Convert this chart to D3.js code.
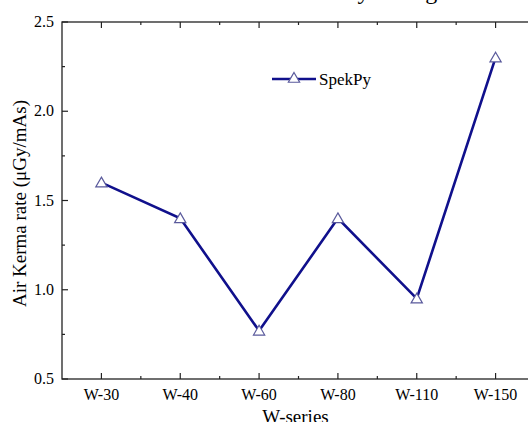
<!DOCTYPE html>
<html>
<head>
<meta charset="utf-8">
<script src="https://d3js.org/d3.v7.min.js"></script>
<style>
  body { margin: 0; background: #fff; }
  svg { display: block; font-family: "Liberation Serif", "Times New Roman", serif; }
</style>
</head>
<body>
<div id="chart"></div>
<script>
// data
var categories = ["W-30", "W-40", "W-60", "W-80", "W-110", "W-150"];
var spekpy = [1.60, 1.40, 0.77, 1.40, 0.95, 2.30];
var yTicks = [0.5, 1.0, 1.5, 2.0, 2.5];
var seriesName = "SpekPy";

const width = 528, height = 422;
const margin = {left: 62, right: -7, top: 22, bottom: 43};
const lineColor = "#10108c";
const markColor = "#5a5a9c";

const svg = d3.select("#chart").append("svg")
  .attr("width", width).attr("height", height);

const x = d3.scaleLinear()
  .domain([-0.5, categories.length - 0.5])
  .range([margin.left, width - margin.right]);
const y = d3.scaleLinear()
  .domain([0.5, 2.5])
  .range([height - margin.bottom, margin.top]);

// title, mostly outside the picture (only descenders show)
svg.append("text")
  .attr("x", 448).attr("y", -1)
  .attr("text-anchor", "end")
  .style("font-size", "24px")
  .text("Air Kerma rate by Voltage");

const x0 = margin.left, x1 = width - margin.right;
const y0 = height - margin.bottom, y1 = margin.top;

// frame
svg.append("rect")
  .attr("x", x0).attr("y", y1)
  .attr("width", x1 - x0).attr("height", y0 - y1)
  .attr("fill", "none").attr("stroke", "#222").attr("stroke-width", 1.3);

var idx = d3.range(categories.length);
var minorX = d3.range(categories.length - 1).map(i => i + 0.5);
var minorY = [0.75, 1.25, 1.75, 2.25];

function tickLines(vals, len, horiz, base, dir) {
  svg.append("g").selectAll("line").data(vals).enter().append("line")
    .attr("x1", d => horiz ? x(d) : base)
    .attr("x2", d => horiz ? x(d) : base + dir * len)
    .attr("y1", d => horiz ? base : y(d))
    .attr("y2", d => horiz ? base + dir * len : y(d))
    .attr("stroke", "#222").attr("stroke-width", 1.2);
}
// inward ticks on all sides
tickLines(idx, 6, true, y0, -1);
tickLines(minorX, 3, true, y0, -1);
tickLines(idx, 6, true, y1, 1);
tickLines(minorX, 3, true, y1, 1);
tickLines(yTicks, 6, false, x0, 1);
tickLines(minorY, 3, false, x0, 1);
tickLines(yTicks, 6, false, x1, -1);
tickLines(minorY, 3, false, x1, -1);

// tick labels
svg.append("g").selectAll("text").data(idx).enter().append("text")
  .attr("x", d => x(d)).attr("y", y0 + 21)
  .attr("text-anchor", "middle")
  .style("font-size", "16px")
  .text(d => categories[d]);
svg.append("g").selectAll("text").data(yTicks).enter().append("text")
  .attr("x", x0 - 8).attr("y", d => y(d) + 5)
  .attr("text-anchor", "end")
  .style("font-size", "16px")
  .text(d => d.toFixed(1));

// axis titles
svg.append("text")
  .attr("x", (x0 + x1) / 2 - 3).attr("y", y0 + 44)
  .attr("text-anchor", "middle")
  .style("font-size", "19px")
  .text("W-series");
svg.append("text")
  .attr("transform", "translate(26," + ((y0 + y1) / 2 + 3) + ") rotate(-90)")
  .attr("text-anchor", "middle")
  .style("font-size", "19px")
  .text("Air Kerma rate (\u03bcGy/mAs)");

// series
const line = d3.line().x((d, i) => x(i)).y(d => y(d));
svg.append("path").datum(spekpy)
  .attr("d", line)
  .attr("fill", "none").attr("stroke", lineColor).attr("stroke-width", 2.6);

const tri = d3.symbol().type(d3.symbolTriangle).size(55);
svg.append("g").selectAll("path").data(spekpy).enter().append("path")
  .attr("d", tri)
  .attr("transform", (d, i) => "translate(" + x(i) + "," + (y(d) + 1) + ")")
  .attr("fill", "#fff").attr("stroke", markColor).attr("stroke-width", 1.2);

// legend
const lg = svg.append("g").attr("transform", "translate(272,79)");
lg.append("line").attr("x1", 0).attr("x2", 44).attr("y1", 0).attr("y2", 0)
  .attr("stroke", lineColor).attr("stroke-width", 2.6);
lg.append("path").attr("d", tri).attr("transform", "translate(22,0)")
  .attr("fill", "#fff").attr("stroke", markColor).attr("stroke-width", 1.2);
lg.append("text").attr("x", 47).attr("y", 6)
  .style("font-size", "17px")
  .text(seriesName);
</script>
</body>
</html>
